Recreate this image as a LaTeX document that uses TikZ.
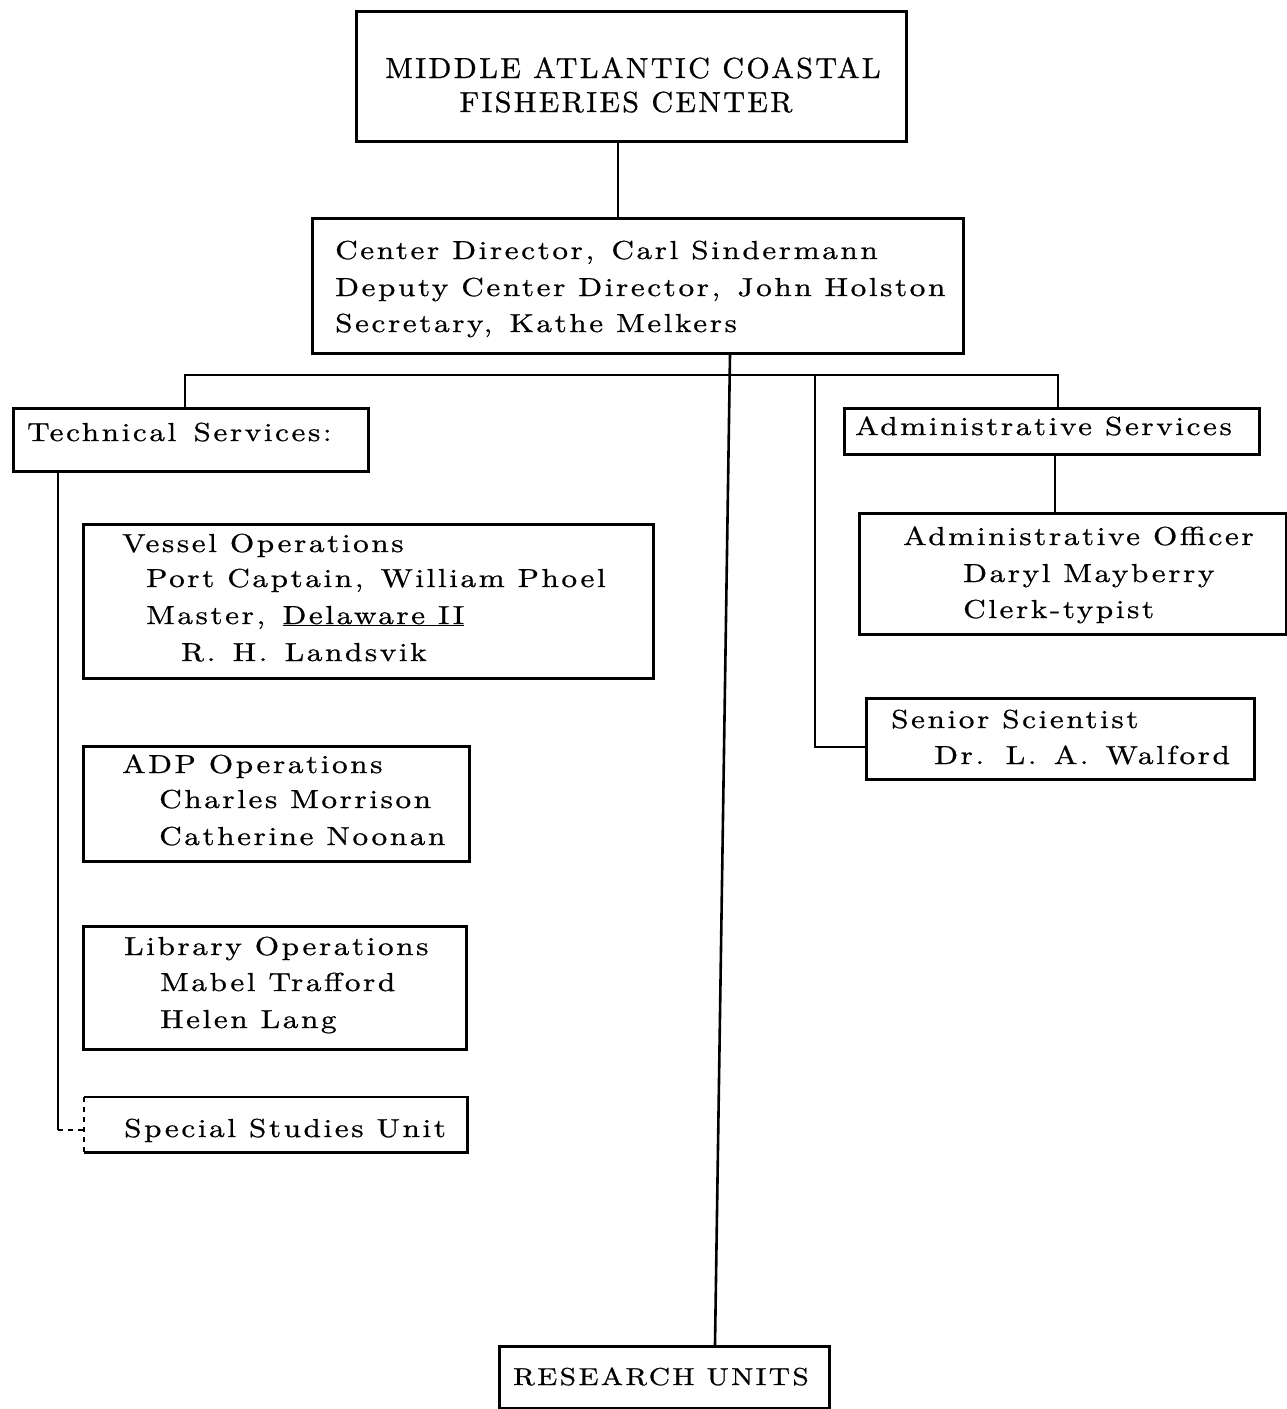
\documentclass[tikz,border=0pt]{standalone}
\usepackage{fontspec}
\usetikzlibrary{calc}
\newfontfamily\twfam{lmroman10-regular.otf}[FakeStretch=1.2, LetterSpace=10, FakeBold=0.8]
\newfontfamily\tcfam{lmroman10-regular.otf}[FakeStretch=1.04, LetterSpace=8, FakeBold=0.8]
\newcommand\tf{\twfam\fontsize{26}{36}\selectfont}
\newcommand\tff{\twfam\fontsize{24.5}{36}\selectfont}
\newcommand\tcf{\tcfam\fontsize{29}{36}\selectfont}
\tikzset{
 box/.style={draw, line width=2.6pt, anchor=north west, inner sep=0pt},
 txt/.style={anchor=base west, inner sep=0pt, font=\tf},
 ctxt/.style={anchor=base, inner sep=0pt, font=\tff},
 htxt/.style={anchor=base, inner sep=0pt, font=\tcf},
 link/.style={line width=2.6pt},
 dlink/.style={line width=2pt, dash pattern=on 5pt off 5pt},
}
\begin{document}
\begin{tikzpicture}[x=1pt,y=-1pt]
\useasboundingbox[fill=white] (0,0) rectangle (1287,1409);
% boxes
\node[box, minimum width=550pt, minimum height=130pt] (top) at (355,10) {};
\node[box, minimum width=651pt, minimum height=135pt] (dir) at (311,217) {};
\node[box, minimum width=355pt, minimum height=63pt] (tech) at (12,407) {};
\node[box, minimum width=570pt, minimum height=154pt] (vessel) at (82,523) {};
\node[box, minimum width=386pt, minimum height=115pt] (adp) at (82,745) {};
\node[box, minimum width=383pt, minimum height=123pt] (lib) at (82,925) {};
\node[box, draw=none, minimum width=381pt, minimum height=53pt] (spec) at (84,1097) {};
\node[box, minimum width=415pt, minimum height=46pt] (admserv) at (843,407) {};
\node[box, minimum width=427pt, minimum height=121pt] (admoff) at (858,512) {};
\node[box, minimum width=388pt, minimum height=81pt] (senior) at (865,697) {};
\node[box, minimum width=330pt, minimum height=62pt] (research) at (498,1345) {};
\draw[link] (spec.north west) -- (spec.north east) -- (spec.south east) -- (spec.south west);
\draw[dlink] (spec.north west) -- (spec.south west);
% texts
\node[htxt] (t1) at (633,78) {MIDDLE ATLANTIC COASTAL};
\node[htxt] (t2) at (626,112) {FISHERIES CENTER};
\node[txt] (d1) at (335,259) {Center Director,\, Carl Sindermann};
\node[txt] (d2) at (335,296) {Deputy Center Director,\, John Holston};
\node[txt] (d3) at (335,332) {Secretary,\, Kathe Melkers};
\node[txt] (tt) at (27,441) {Technical\, Services:};
\node[txt] (v1) at (122,552) {Vessel Operations};
\node[txt] (v2) at (146,587) {Port Captain,\, William Phoel};
\node[txt] (v3) at (146,624) {Master,\, \underline{Delaware II}};
\node[txt] (v4) at (181,661) {R.\, H.\, Landsvik};
\node[txt] (a1) at (122,773) {ADP Operations};
\node[txt] (a2) at (159,808) {Charles Morrison};
\node[txt] (a3) at (159,845) {Catherine Noonan};
\node[txt] (l1) at (124,955) {Library Operations};
\node[txt] (l2) at (160,991) {Mabel Trafford};
\node[txt] (l3) at (160,1028) {Helen Lang};
\node[txt] (s1) at (124,1137) {Special Studies Unit};
\node[txt] (as) at (855,435) {Administrative Services};
\node[txt] (o1) at (903,545) {Administrative Officer};
\node[txt] (o2) at (963,582) {Daryl Mayberry};
\node[txt] (o3) at (963,618) {Clerk-typist};
\node[txt] (n1) at (891,728) {Senior Scientist};
\node[txt] (n2) at (934,764) {Dr.\, L.\, A.\, Walford};
\node[ctxt] (r1) at (661,1385) {RESEARCH UNITS};
% connectors
\coordinate (xa) at (618,0);
\draw[link] (top.south -| xa) -- (dir.north -| xa);
\coordinate (bl) at (185,375);
\coordinate (br) at (1058,375);
\draw[link] (tech.north -| bl) -- (bl) -- (br) -- (admserv.north -| br);
\coordinate (xd) at (730,0);
\coordinate (xr) at (715,0);
\draw[link] (dir.south -| xd) -- (research.north -| xr);
\coordinate (xs) at (815,0);
\draw[link] (xs |- bl) |- ($(senior.west)+(0,8)$);
\coordinate (xo) at (1055,0);
\draw[link] (admserv.south -| xo) -- (admoff.north -| xo);
\coordinate (sp) at (58,1130);
\draw[link] (tech.south -| sp) -- (sp);
\draw[link] ($(vessel.west)+(0,-8)$ -| sp) -- ($(vessel.west)+(0,-8)$);
\draw[link] ($(adp.west)+(0,-7)$ -| sp) -- ($(adp.west)+(0,-7)$);
\draw[dlink] ($(lib.west)+(0,13)$ -| sp) -- ($(lib.west)+(0,13)$);
\draw[dlink] (sp) -- (spec.west |- sp);
\end{tikzpicture}
\end{document}
